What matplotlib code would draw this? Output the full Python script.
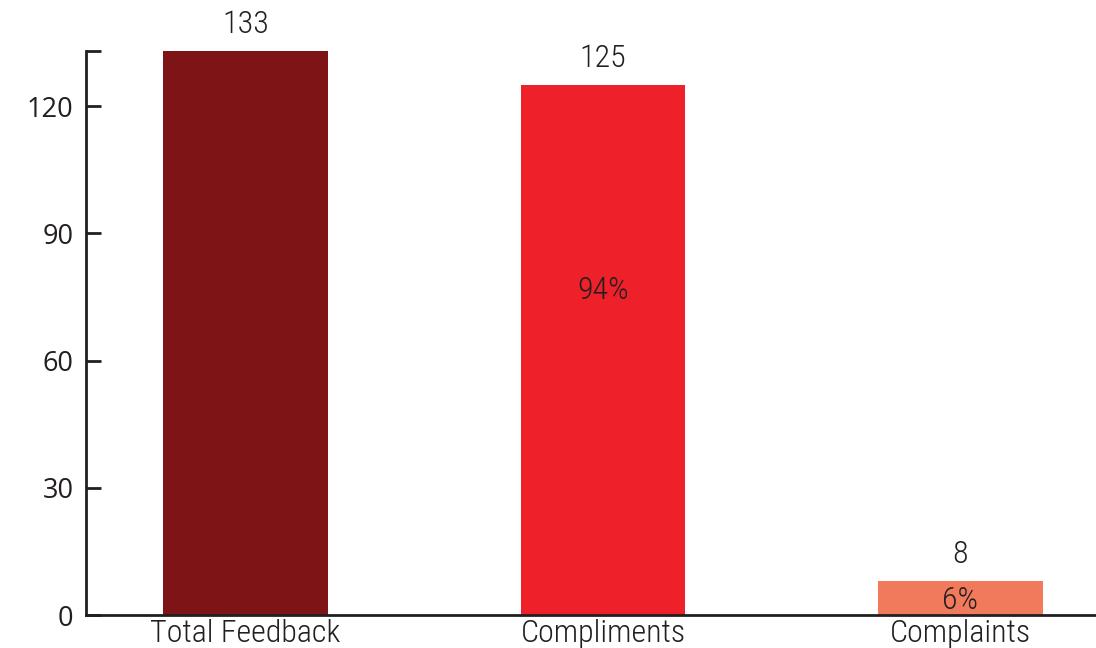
import matplotlib
matplotlib.use('Agg')
import matplotlib.pyplot as plt
from matplotlib import font_manager

categories = ['Total Feedback', 'Compliments', 'Complaints']
values = [133, 125, 8]
shares = ['', '94%', '6%']
share_y = [0, 76.5, 3.5]
colors = ['#7f1417', '#ee2029', '#f07a5b']
yticks = [0, 30, 60, 90, 120]

ink = '#231f20'
installed = {f.name for f in font_manager.fontManager.ttflist}
if 'Liberation Sans Narrow' in installed:
    narrow, nsize = ['Liberation Sans Narrow', 'DejaVu Sans'], 21
elif 'Roboto Condensed' in installed:
    narrow, nsize = ['Roboto Condensed', 'DejaVu Sans'], 23
else:
    narrow, nsize = ['Roboto', 'DejaVu Sans'], 18.5

fig = plt.figure(figsize=(10.96, 6.48), dpi=100)
ax = fig.add_axes([86 / 1096, 33 / 648, 1010 / 1096, 564 / 648])

x = range(len(categories))
bars = ax.bar(x, values, width=0.46, color=colors)

for i, b in enumerate(bars):
    ax.text(b.get_x() + b.get_width() / 2, values[i] + 6.3, str(values[i]),
            ha='center', va='center', fontsize=nsize, color=ink, family=narrow,
            fontweight='light')
    if shares[i]:
        ax.text(b.get_x() + b.get_width() / 2, share_y[i], shares[i],
                ha='center', va='center', fontsize=nsize, color=ink, family=narrow,
                fontweight='light')

ax.set_xlim(-0.446, 2.379)
ax.set_ylim(0, 133)
ax.set_yticks(yticks)
ax.set_yticks([133], minor=True)
ax.set_yticklabels([str(t) for t in yticks], fontsize=19.5, color=ink,
                   family=['Open Sans', 'Noto Sans', 'DejaVu Sans'])
ax.tick_params(axis='y', which='both', direction='in', length=11, width=2, color=ink, pad=9)
ax.set_xticks(list(x))
ax.set_xticklabels(categories, fontsize=nsize, color=ink, family=narrow, fontweight='light')
ax.tick_params(axis='x', length=0, pad=3)

for s in ['top', 'right']:
    ax.spines[s].set_visible(False)
for s in ['left', 'bottom']:
    ax.spines[s].set_linewidth(2)
    ax.spines[s].set_color(ink)

fig.savefig('out.png', dpi=100)
